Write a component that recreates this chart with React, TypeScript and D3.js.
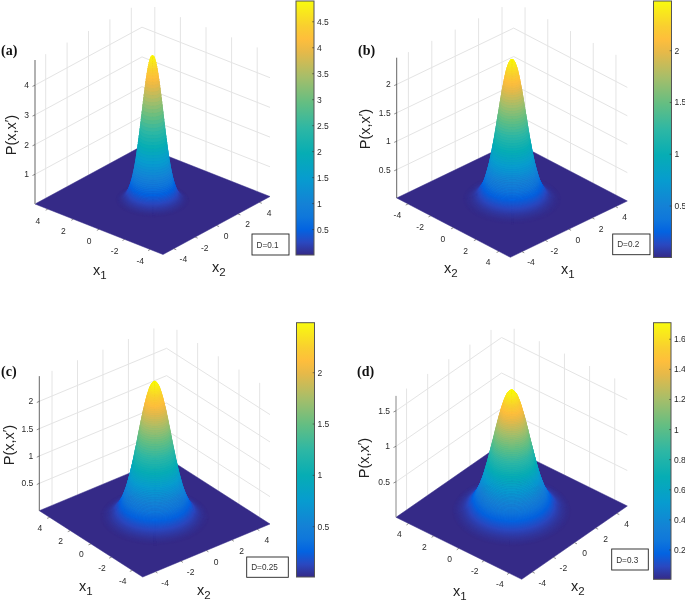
import React from "react";
import * as d3 from "d3";

// ---------- data ----------
const radialStep = 0.1; // spacing of the radial samples below (x units)
const profileA = [4.88,4.82,4.64,4.35,3.98,3.54,3.08,2.6,2.15,1.73,1.35,1.03,0.77,0.56,0.4,0.27,0.18,0.12,0.077,0.047,0.029,0.017,0.01];
const profileB = [2.47,2.45,2.4,2.32,2.21,2.07,1.92,1.75,1.57,1.4,1.22,1.05,0.9,0.75,0.62,0.51,0.41,0.32,0.25,0.2,0.15,0.11,0.082,0.06,0.043,0.03,0.021,0.015,0.01,0.006,0.004];
const profileC = [2.48,2.47,2.43,2.37,2.28,2.18,2.06,1.93,1.79,1.64,1.49,1.33,1.19,1.04,0.91,0.78,0.67,0.56,0.47,0.39,0.32,0.26,0.21,0.16,0.13,0.1,0.077,0.059,0.044,0.033,0.025,0.018,0.013,0.01];
const profileD = [1.71,1.7,1.68,1.65,1.6,1.54,1.47,1.39,1.31,1.22,1.13,1.03,0.94,0.85,0.76,0.67,0.59,0.51,0.44,0.38,0.32,0.27,0.23,0.19,0.155,0.127,0.103,0.082,0.065,0.051,0.04,0.031,0.024,0.018,0.013,0.009,0.005];

const ranges = { a: [0.01, 4.9], b: [0.003, 2.48], c: [0.01, 2.487], d: [0.005, 1.71] };
const zTicksA = [1, 2, 3, 4];
const zTicksB = [0.5, 1, 1.5, 2];
const zTicksC = [0.5, 1, 1.5, 2];
const zTicksD = [0.5, 1, 1.5];
const barTicksA = [0.5, 1, 1.5, 2, 2.5, 3, 3.5, 4, 4.5];
const barTicksB = [0.5, 1, 1.5, 2];
const barTicksC = [0.5, 1, 1.5, 2];
const barTicksD = [0.2, 0.4, 0.6, 0.8, 1, 1.2, 1.4, 1.6];
const floorTicks = [-4, -2, 0, 2, 4];
const gridTicks = [-4, -2, 0, 2, 4];

const parulaStops = [0, 0.05, 0.1, 0.15, 0.2, 0.3, 0.4, 0.5, 0.6, 0.7, 0.8, 0.85, 0.9, 1];
const parulaColors = ["#352a87","#2a48c0","#0363e1","#0f77db","#1481d6","#079ccf","#06adb4","#2eb7a4","#64be82","#a5be6a","#e6b949","#febe3c","#f9ce30","#f9fb0e"];

const parula = d3.scaleLinear<string>().domain(parulaStops).range(parulaColors).clamp(true);

type Pt = [number, number];
interface Panel {
  id: string; label: string; lx: number; ly: number;
  profile: number[]; zRange: number[]; zTicks: number[]; barTicks: number[];
  L: Pt; R: Pt; F: Pt; zPx: number; zTop: number;
  leftDomain: number[]; rightDomain: number[];
  leftOff: Pt; rightOff: Pt;
  leftName: string; rightName: string;
  leftNamePos: Pt; rightNamePos: Pt; pPos: Pt;
  bar: number[]; box: number[]; dText: string;
  axisColor: string; axisWidth: number;
}

const panels: Panel[] = [
  { id: "a", label: "(a)", lx: 1, ly: 55, profile: profileA, zRange: ranges.a, zTicks: zTicksA, barTicks: barTicksA,
    L: [35, 204], R: [270, 196.5], F: [163, 254.5], zPx: 29.7, zTop: 4.85,
    leftDomain: [5, -5], rightDomain: [-5, 5], leftOff: [-10, 12], rightOff: [9.7, 10.5],
    leftName: "1", rightName: "2", leftNamePos: [93, 275], rightNamePos: [212, 272], pPos: [11, 135],
    bar: [296, 1, 18, 254], box: [252, 234, 37, 21], dText: "D=0.1", axisColor: "#999", axisWidth: 1.5 },
  { id: "b", label: "(b)", lx: 358, ly: 55, profile: profileB, zRange: ranges.b, zTicks: zTicksB, barTicks: barTicksB,
    L: [396.7, 198], R: [627.3, 201], F: [510.3, 257.3], zPx: 56.8, zTop: 2.47,
    leftDomain: [-5, 5], rightDomain: [-5, 5], leftOff: [-10.7, 11], rightOff: [9, 10.7],
    leftName: "2", rightName: "1", leftNamePos: [444, 273], rightNamePos: [561, 274], pPos: [365, 129],
    bar: [653.5, 1, 18, 256.5], box: [612.7, 234, 37.3, 20.7], dText: "D=0.2", axisColor: "#555", axisWidth: 0.9 },
  { id: "c", label: "(c)", lx: 1, ly: 376, profile: profileC, zRange: ranges.c, zTicks: zTicksC, barTicks: barTicksC,
    L: [39.3, 510.7], R: [270, 524], F: [142.7, 577], zPx: 54.7, zTop: 2.46,
    leftDomain: [5, -5], rightDomain: [-5, 5], leftOff: [-9.7, 10.5], rightOff: [9.7, 11],
    leftName: "1", rightName: "2", leftNamePos: [79, 591], rightNamePos: [197, 595], pPos: [8.5, 445],
    bar: [296.5, 322.7, 18, 254.3], box: [246.7, 557, 41.6, 20.3], dText: "D=0.25", axisColor: "#555", axisWidth: 0.9 },
  { id: "d", label: "(d)", lx: 357, ly: 376, profile: profileD, zRange: ranges.d, zTicks: zTicksD, barTicks: barTicksD,
    L: [396, 517.3], R: [627.3, 506], F: [521.7, 579.3], zPx: 71, zTop: 1.71,
    leftDomain: [5, -5], rightDomain: [-5, 5], leftOff: [-9.3, 10.7], rightOff: [10, 10.7],
    leftName: "1", rightName: "2", leftNamePos: [453, 596], rightNamePos: [571, 591], pPos: [364, 458],
    bar: [653.5, 322.7, 17.5, 256.6], box: [611.7, 549, 36.6, 21], dText: "D=0.3", axisColor: "#888", axisWidth: 1 },
];

const SANS = "'Liberation Sans', Arial, sans-serif";
const TICK = "#2a2a2a";
const GRID = "#e4e4e4";
const SUBS = 4;
const ARC = 72;
const lerp = (a: Pt, b: Pt, t: number): Pt => [a[0] + (b[0] - a[0]) * t, a[1] + (b[1] - a[1]) * t];
const line = d3.line();

function Surface({ p }: { p: Panel }) {
  const { L, R, F } = p;
  const B: Pt = [L[0] + R[0] - F[0], L[1] + R[1] - F[1]];
  const frac = d3.scaleLinear().domain([-5, 5]).range([0, 1]);
  const colorT = d3.scaleLinear().domain(p.zRange).range([0, 1]).clamp(true);
  const col = (v: number) => parula(colorT(v));
  const project = (u: number, v: number, z: number): Pt => [
    F[0] + u * (L[0] - F[0]) + v * (R[0] - F[0]),
    F[1] + u * (L[1] - F[1]) + v * (R[1] - F[1]) - z * p.zPx,
  ];
  const profileAt = d3.scaleLinear().domain(p.profile.map((_, i) => i * radialStep)).range(p.profile);
  const rMax = (p.profile.length - 1) * radialStep;
  const nRings = (p.profile.length - 1) * SUBS;
  const rOf = (i: number) => (i / nRings) * rMax;

  // half annulus: start angle is the silhouette on one side of the view axis
  const halfRing = (i: number, start: number) => {
    const r0 = rOf(i), r1 = rOf(i + 1);
    const z0 = profileAt(r0), z1 = profileAt(r1);
    const angles = d3.range(ARC + 1).map((k) => start + (k / ARC) * Math.PI);
    const at = (r: number, z: number, th: number) =>
      project(frac(r * Math.cos(th)), frac(r * Math.sin(th)), z);
    const outer = angles.map((th) => at(r1, z1, th));
    const inner = angles.slice().reverse().map((th) => at(r0, z0, th));
    return { d: line([...outer, ...inner])! + "Z", fill: col((z0 + z1) / 2) };
  };
  const rings = d3.range(nRings);
  const backStart = -Math.PI / 4;
  const frontStart = (3 * Math.PI) / 4;
  const backHalves = rings.slice().reverse().map((i) => halfRing(i, backStart));
  const frontHalves = rings.map((i) => halfRing(i, frontStart));

  const wall = (A: Pt, C: Pt) => gridTicks.map((t) => {
    const base = lerp(A, C, frac(t));
    return <line key={t} x1={base[0]} y1={base[1]} x2={base[0]} y2={base[1] - p.zTop * p.zPx} stroke={GRID} strokeWidth={1} />;
  });
  const zLines = p.zTicks.map((z) => {
    const pts: Pt[] = [[L[0], L[1] - z * p.zPx], [B[0], B[1] - z * p.zPx], [R[0], R[1] - z * p.zPx]];
    return <path key={z} d={line(pts)!} fill="none" stroke={GRID} strokeWidth={1} />;
  });

  const leftT = d3.scaleLinear().domain(p.leftDomain).range([0, 1]);
  const rightT = d3.scaleLinear().domain(p.rightDomain).range([0, 1]);
  const leftUnit: Pt = [(R[0] - F[0]) * -0.02, (R[1] - F[1]) * -0.02];
  const rightUnit: Pt = [(L[0] - F[0]) * -0.02, (L[1] - F[1]) * -0.02];

  const barY = d3.scaleLinear().domain(p.zRange).range([p.bar[1] + p.bar[3], p.bar[1]]);
  const fontTick = 8.5;

  return (
    <g>
      <defs>
        <linearGradient id={`bar-${p.id}`} x1="0" y1="1" x2="0" y2="0">
          {parulaStops.map((s, i) => <stop key={s} offset={s} stopColor={parulaColors[i]} />)}
        </linearGradient>
      </defs>
      {wall(L, B)}
      {wall(B, R)}
      {zLines}
      <path d={line([L, F, R, B])! + "Z"} fill={col(p.zRange[0])} stroke={col(p.zRange[0])} strokeWidth={0.5} />
      {backHalves.map((q, i) => <path key={"b" + i} d={q.d} fill={q.fill} stroke={q.fill} strokeWidth={0.7} />)}
      {frontHalves.map((q, i) => <path key={"f" + i} d={q.d} fill={q.fill} stroke={q.fill} strokeWidth={0.7} />)}

      <line x1={L[0]} y1={L[1]} x2={L[0]} y2={L[1] - p.zTop * p.zPx} stroke={p.axisColor} strokeWidth={p.axisWidth} />
      {p.zTicks.map((z) => (
        <g key={z}>
          <line x1={L[0]} y1={L[1] - z * p.zPx} x2={L[0] - 2.5} y2={L[1] - z * p.zPx + 1.2} stroke="#444" strokeWidth={0.6} />
          <text x={L[0] - 6} y={L[1] - z * p.zPx + 3} textAnchor="end" fontFamily={SANS} fontSize={fontTick} fill={TICK}>{z}</text>
        </g>
      ))}
      {floorTicks.map((t) => {
        const a = lerp(L, F, leftT(t));
        const b = lerp(F, R, rightT(t));
        return (
          <g key={t}>
            <line x1={a[0]} y1={a[1]} x2={a[0] + leftUnit[0]} y2={a[1] + leftUnit[1]} stroke="#444" strokeWidth={0.6} />
            <line x1={b[0]} y1={b[1]} x2={b[0] + rightUnit[0]} y2={b[1] + rightUnit[1]} stroke="#444" strokeWidth={0.6} />
            <text x={a[0] + p.leftOff[0]} y={a[1] + p.leftOff[1] + 3} textAnchor="middle" fontFamily={SANS} fontSize={fontTick} fill={TICK}>{t}</text>
            <text x={b[0] + p.rightOff[0]} y={b[1] + p.rightOff[1] + 3} textAnchor="middle" fontFamily={SANS} fontSize={fontTick} fill={TICK}>{t}</text>
          </g>
        );
      })}

      <text x={p.leftNamePos[0]} y={p.leftNamePos[1]} fontFamily={SANS} fontSize={14.5} fill="#222">x<tspan dy={4} fontSize={11.5}>{p.leftName}</tspan></text>
      <text x={p.rightNamePos[0]} y={p.rightNamePos[1]} fontFamily={SANS} fontSize={14.5} fill="#222">x<tspan dy={4} fontSize={11.5}>{p.rightName}</tspan></text>
      <text transform={`translate(${p.pPos[0] + 5},${p.pPos[1]}) rotate(-90)`} textAnchor="middle" fontFamily={SANS} fontSize={14.5} fill="#222">P(x,x<tspan dy={-2} fontSize={13}>′</tspan><tspan dy={2}>)</tspan></text>

      <text x={p.lx} y={p.ly} fontFamily="'Liberation Serif', serif" fontWeight="bold" fontSize={14} fill="#111">{p.label}</text>

      <rect x={p.box[0]} y={p.box[1]} width={p.box[2]} height={p.box[3]} fill="#fff" stroke="#222" strokeWidth={0.9} />
      <text x={p.box[0] + 4.5} y={p.box[1] + p.box[3] / 2 + 3} fontFamily={SANS} fontSize={8.2} fill="#333">{p.dText}</text>

      <rect x={p.bar[0]} y={p.bar[1]} width={p.bar[2]} height={p.bar[3]} fill={`url(#bar-${p.id})`} stroke="#555" strokeWidth={1} />
      {p.barTicks.map((v) => (
        <g key={v}>
          <line x1={p.bar[0] + p.bar[2] - 1.8} y1={barY(v)} x2={p.bar[0] + p.bar[2]} y2={barY(v)} stroke="#333" strokeWidth={0.6} />
          <text x={p.bar[0] + p.bar[2] + 3} y={barY(v) + 3} fontFamily={SANS} fontSize={fontTick} fill={TICK}>{v}</text>
        </g>
      ))}
    </g>
  );
}

export default function App() {
  return (
    <svg width={685} height={604} viewBox="0 0 685 604" style={{ position: "absolute", left: 0, top: 0, display: "block", background: "#fff", filter: "blur(0.5px)" }}>
      {panels.map((p) => <Surface key={p.id} p={p} />)}
    </svg>
  );
}
